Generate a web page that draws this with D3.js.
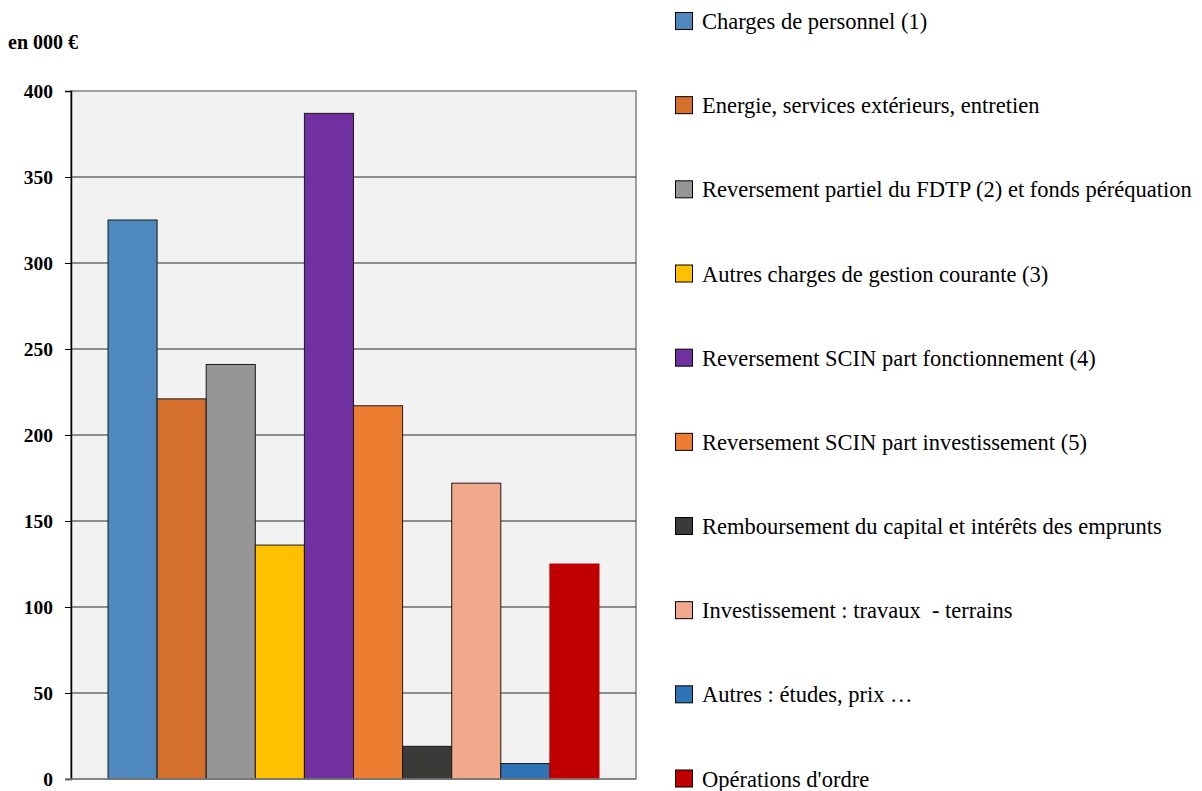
<!DOCTYPE html>
<html>
<head>
<meta charset="utf-8">
<script src="https://cdn.jsdelivr.net/npm/d3@7"></script>
<style>
  body { margin: 0; background: #fff; }
  svg { font-family: "Liberation Serif", "Times New Roman", serif; }
</style>
</head>
<body>
<div class="chart"></div>
<script>
// data
const categories = [
  'Charges de personnel (1)',
  'Energie, services extérieurs, entretien',
  'Reversement partiel du FDTP (2) et fonds péréquation',
  'Autres charges de gestion courante (3)',
  'Reversement SCIN part fonctionnement (4)',
  'Reversement SCIN part investissement (5)',
  'Remboursement du capital et intérêts des emprunts',
  'Investissement : travaux  - terrains',
  'Autres : études, prix …',
  "Opérations d'ordre"
];
const values = [325, 221, 241, 136, 387, 217, 19, 172, 9, 125];
const colors = ['#4f88bd', '#d4702c', '#969696', '#ffc000', '#7030a0', '#ed7d31', '#3a3a38', '#f2a88a', '#2e74b5', '#c00000'];
const yTicks = [0, 50, 100, 150, 200, 250, 300, 350, 400];

// dimensions
const width = 1202, height = 791;
const plot = { left: 71, right: 636, top: 91, bottom: 779 };

const svg = d3.select('.chart')
  .append('svg')
  .attr('width', width)
  .attr('height', height);

// scales
const y = d3.scaleLinear().domain([0, 400]).range([plot.bottom, plot.top]);
const x = d3.scaleBand()
  .domain(categories)
  .range([108, 599])
  .paddingInner(0)
  .paddingOuter(0);

// plot background
svg.append('rect')
  .attr('x', plot.left)
  .attr('y', plot.top)
  .attr('width', plot.right - plot.left)
  .attr('height', plot.bottom - plot.top)
  .attr('fill', '#f2f2f2')
  .attr('stroke', '#808080')
  .attr('stroke-width', 1.5);

// gridlines
svg.append('g')
  .selectAll('line')
  .data(yTicks.filter(d => d > 0 && d < 400))
  .enter()
  .append('line')
  .attr('x1', plot.left)
  .attr('x2', plot.right)
  .attr('y1', d => y(d))
  .attr('y2', d => y(d))
  .attr('stroke', '#2a2a2a')
  .attr('stroke-width', 1);

// bars
svg.append('g')
  .selectAll('rect')
  .data(values)
  .enter()
  .append('rect')
  .attr('x', (d, i) => x(categories[i]))
  .attr('y', d => y(d))
  .attr('width', x.bandwidth())
  .attr('height', d => y(0) - y(d))
  .attr('fill', (d, i) => colors[i])
  .attr('stroke', (d, i) => i === 9 ? colors[i] : '#1a1a1a')
  .attr('stroke-width', 1);

// y axis
const yAxis = d3.axisLeft(y)
  .tickValues(yTicks)
  .tickSize(6)
  .tickPadding(12);
const yAxisGroup = svg.append('g')
  .attr('transform', `translate(${plot.left}, 0)`)
  .call(yAxis);
yAxisGroup.select('.domain').attr('stroke', '#000').attr('stroke-width', 1.5);
yAxisGroup.selectAll('line').attr('stroke', '#000');
yAxisGroup.selectAll('text')
  .attr('font-family', '"Liberation Serif", serif')
  .attr('font-size', 19.5)
  .attr('font-weight', 'bold')
  .attr('fill', '#000');

// bottom axis line
svg.append('line')
  .attr('x1', plot.left - 6)
  .attr('x2', plot.right)
  .attr('y1', plot.bottom)
  .attr('y2', plot.bottom)
  .attr('stroke', '#808080')
  .attr('stroke-width', 1.5);

// unit label
svg.append('text')
  .attr('x', 8)
  .attr('y', 49)
  .attr('font-size', 20)
  .attr('font-weight', 'bold')
  .text('en 000 €');

// legend
const legendY = d3.scalePoint().domain(categories).range([20.5, 778]);
const legend = svg.append('g')
  .selectAll('g')
  .data(categories)
  .enter()
  .append('g')
  .attr('transform', d => `translate(675, ${legendY(d)})`);
legend.append('rect')
  .attr('x', 0.5)
  .attr('y', -8)
  .attr('width', 17)
  .attr('height', 17)
  .attr('fill', (d, i) => colors[i])
  .attr('stroke', '#000')
  .attr('stroke-width', 1);
legend.append('text')
  .attr('x', 27)
  .attr('y', 8.5)
  .attr('font-size', 22.5)
  .attr('fill', '#000')
  .style('white-space', 'pre')
  .text(d => d);
</script>
</body>
</html>
